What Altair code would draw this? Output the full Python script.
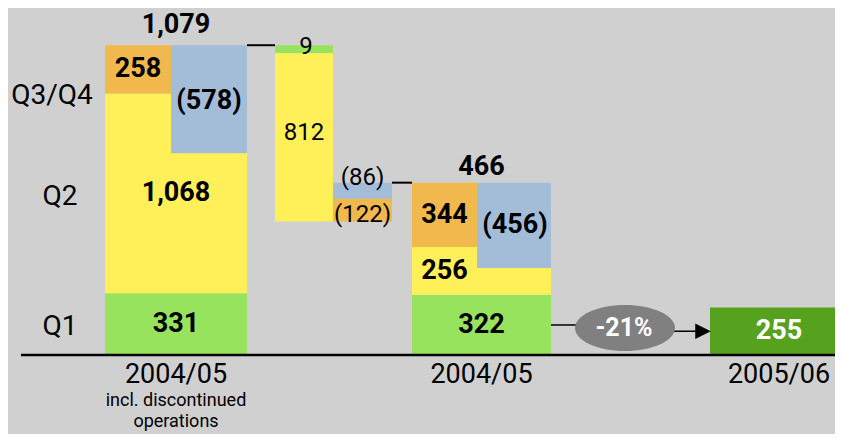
import altair as alt
import pandas as pd

# ---------------- data ----------------
quarters = ["Q1", "Q2", "Q3/Q4"]
year_labels = ["2004/05", "2004/05", "2005/06"]
year_note = ["incl. discontinued", "operations"]

incl_disc = [331, 1068, 258]          # 2004/05 incl. discontinued: Q1, Q2, Q3/Q4 (+)
incl_disc_neg = 578                   # Q3/Q4 (-)
incl_disc_total = 1079
disc_ops = [9, 812]                   # discontinued operations: Q1, Q2
adjust = [86, 122]                    # adjustments: blue, orange
cont_ops = [322, 256, 344]            # 2004/05: Q1, Q2, Q3/Q4 (+)
cont_ops_neg = 456                    # Q3/Q4 (-)
cont_ops_total = 466
new_q1 = 255                          # 2005/06 Q1
change_label = "-21%"

# ---------------- styles / layout ----------------
GREEN, YELLOW, ORANGE, BLUE = "#98e35e", "#fff05a", "#f1b84d", "#a3bdd9"
DKGREEN, BG, OVAL = "#56a21f", "#d0d0d0", "#808080"
FONT = "Roboto"
W, H = 827, 426
YMIN, YMAX = -422, 1856
UPP = (YMAX - YMIN) / H               # value units per pixel
MIN_SEG = 8 * UPP                     # smallest drawn segment height (8 px)
BOLD, BIG, YEAR, MED, SMALL = 27, 28, 27, 24, 18
COLS = {"b1a": (105, 171), "b1b": (171, 247), "b2": (275, 333), "b3": (333, 392),
        "b4a": (412, 477), "b4b": (477, 551), "b5": (710, 850)}


def mid(c):
    return (COLS[c][0] + COLS[c][1]) / 2


def full(a, b):
    return (COLS[a][0], COLS[b][1])


xs = alt.Scale(domain=[8, 8 + W], nice=False, zero=False)
ys = alt.Scale(domain=[YMIN, YMAX], nice=False, zero=False)

# ---------------- rectangles ----------------
top1 = sum(incl_disc)
top4 = sum(cont_ops)
bot3 = top4 - adjust[0] - adjust[1]
strip9 = max(disc_ops[0], MIN_SEG)
rects = []


def seg(xr, lo, hi, color):
    rects.append({"x": xr[0], "x2": xr[1], "y": lo, "y2": hi, "c": color})


B1 = full("b1a", "b1b")
B4 = full("b4a", "b4b")
seg(B1, 0, incl_disc[0], GREEN)
seg(B1, incl_disc[0], incl_disc[0] + incl_disc[1], YELLOW)
seg(COLS["b1a"], incl_disc[0] + incl_disc[1], top1, ORANGE)
seg(COLS["b1b"], top1 - incl_disc_neg, top1, BLUE)
seg(COLS["b2"], top1 - strip9, top1, GREEN)
seg(COLS["b2"], bot3, top1 - strip9, YELLOW)
seg(COLS["b3"], top4 - adjust[0], top4, BLUE)
seg(COLS["b3"], bot3, top4 - adjust[0], ORANGE)
seg(B4, 0, cont_ops[0], GREEN)
seg(B4, cont_ops[0], cont_ops[0] + cont_ops[1], YELLOW)
seg(COLS["b4a"], cont_ops[0] + cont_ops[1], top4, ORANGE)
seg(COLS["b4b"], top4 - cont_ops_neg, top4, BLUE)
seg(COLS["b5"], 0, new_q1, DKGREEN)
rect_df = pd.DataFrame(rects)

bars = alt.Chart(rect_df).mark_rect().encode(
    x=alt.X("x:Q", scale=xs, axis=None), x2="x2:Q",
    y=alt.Y("y:Q", scale=ys, axis=None), y2="y2:Q",
    color=alt.Color("c:N", scale=None))

# ---------------- lines ----------------
rules_df = pd.DataFrame([
    {"x": 21, "x2": 850, "y": 0, "w": 2.5},
    {"x": COLS["b1b"][1], "x2": COLS["b2"][0], "y": top1, "w": 2},
    {"x": COLS["b3"][1], "x2": COLS["b4a"][0], "y": top4, "w": 2},
    {"x": COLS["b4b"][1], "x2": 576, "y": cont_ops[0] / 2, "w": 1.5},
    {"x": 674, "x2": 697, "y": new_q1 / 2, "w": 1.5},
])
rules = alt.Chart(rules_df).mark_rule(color="black").encode(
    x=alt.X("x:Q", scale=xs, axis=None), x2="x2:Q",
    y=alt.Y("y:Q", scale=ys, axis=None),
    strokeWidth=alt.StrokeWidth("w:Q", scale=None))

oval_y = (cont_ops[0] / 2 + new_q1 / 2) / 2
oval = alt.Chart(pd.DataFrame([{"x": 625, "y": oval_y}])).mark_point(
    shape="M -1 0 A 1 0.46 0 1 1 1 0 A 1 0.46 0 1 1 -1 0 Z",
    size=10000, filled=True, opacity=1, color=OVAL).encode(
    x=alt.X("x:Q", scale=xs, axis=None), y=alt.Y("y:Q", scale=ys, axis=None))

arrow = alt.Chart(pd.DataFrame([{"x": 703, "y": new_q1 / 2}])).mark_point(
    shape="M -1 -1 L 1 0 L -1 1 Z", size=240, filled=True, opacity=1,
    color="black").encode(
    x=alt.X("x:Q", scale=xs, axis=None), y=alt.Y("y:Q", scale=ys, axis=None))

# ---------------- labels ----------------
bold, reg = [], []


def lab(lst, text, x, y, off=0.0, size=BOLD, color="black"):
    lst.append({"t": text, "x": x, "y": y - off * UPP, "s": size, "c": color})


def fmt(v):
    return f"{v:,}"


c1 = (B1[0] + B1[1]) / 2
c4 = (B4[0] + B4[1]) / 2
# bar 1
lab(bold, fmt(incl_disc_total), c1, top1, -20)
lab(bold, fmt(incl_disc[2]), mid("b1a"), incl_disc[0] + incl_disc[1] + incl_disc[2] / 2)
lab(bold, f"({incl_disc_neg})", mid("b1b"), top1 - incl_disc_neg / 2, 2)
lab(bold, fmt(incl_disc[1]), c1, incl_disc[0] + incl_disc[1] / 2)
lab(bold, fmt(incl_disc[0]), c1, incl_disc[0] / 2)
# bar 2 / 3
lab(reg, fmt(disc_ops[0]), mid("b2") + 2, top1 - strip9 / 2, -2, MED)
lab(reg, fmt(disc_ops[1]), mid("b2"), (bot3 + top1 - strip9) / 2, -4, MED)
lab(reg, f"({adjust[0]})", mid("b3"), top4 - adjust[0] / 2, -13, MED)
lab(reg, f"({adjust[1]})", mid("b3"), bot3 + adjust[1] / 2, 5, MED)
# bar 4
lab(bold, fmt(cont_ops_total), c4, top4, -16)
lab(bold, fmt(cont_ops[2]), mid("b4a"), cont_ops[0] + cont_ops[1] + cont_ops[2] / 2)
lab(bold, f"({cont_ops_neg})", mid("b4b") + 1, top4 - cont_ops_neg / 2)
lab(bold, fmt(cont_ops[1]), mid("b4a"), cont_ops[0] + cont_ops[1] / 2)
lab(bold, fmt(cont_ops[0]), c4, cont_ops[0] / 2)
# bar 5 and change
lab(bold, fmt(new_q1), mid("b5") - 1, new_q1 / 2, 0, BOLD, "white")
lab(bold, change_label, 624, oval_y, 0, 25, "white")
# quarter labels
lab(reg, quarters[0], 60, incl_disc[0] / 2, 3, BIG)
lab(reg, quarters[1], 60, incl_disc[0] + incl_disc[1] / 2, 4, BIG)
lab(reg, quarters[2], 52, incl_disc[0] + incl_disc[1] + incl_disc[2] / 2, 27, BIG)
# category labels
lab(reg, year_labels[0], c1, 0, 20, YEAR)
lab(reg, year_labels[1], c4, 0, 20, YEAR)
lab(reg, year_labels[2], mid("b5") - 1, 0, 20, YEAR)


def text_layer(rows, weight):
    return alt.Chart(pd.DataFrame(rows)).mark_text(
        font=FONT, fontWeight=weight, baseline="middle", align="center").encode(
        x=alt.X("x:Q", scale=xs, axis=None), y=alt.Y("y:Q", scale=ys, axis=None),
        text="t:N", size=alt.Size("s:Q", scale=None),
        color=alt.Color("c:N", scale=None))


note_df = pd.DataFrame([{"t": "\n".join(year_note), "x": c1, "y": -37 * UPP}])
note = alt.Chart(note_df).mark_text(
    font=FONT, fontSize=SMALL, baseline="top", align="center", lineBreak="\n",
    lineHeight=21, color="black").encode(
    x=alt.X("x:Q", scale=xs, axis=None), y=alt.Y("y:Q", scale=ys, axis=None),
    text="t:N")

chart = alt.layer(bars, rules, oval, arrow, text_layer(reg, "normal"),
                  text_layer(bold, "bold"), note).properties(
    width=W, height=H, background=BG, padding=0,
    autosize=alt.AutoSizeParams(type="none")
).configure_view(stroke=None)

chart.save("out.html", embed_options={"renderer": "svg", "actions": False})
